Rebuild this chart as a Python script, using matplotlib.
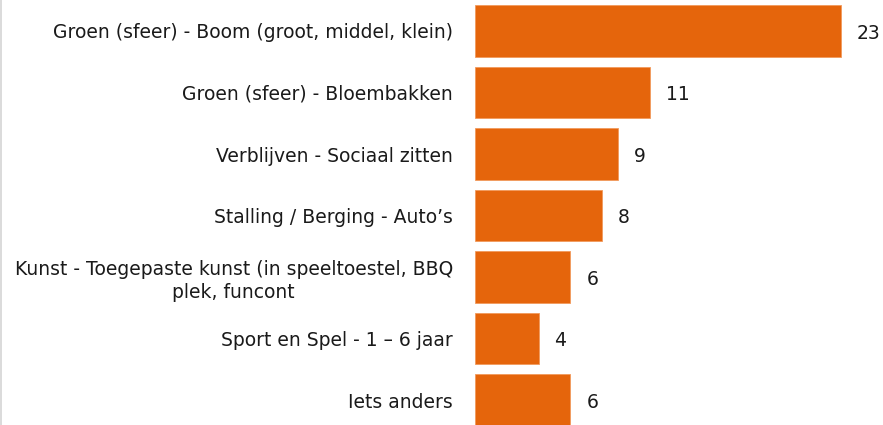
import matplotlib
matplotlib.use("Agg")
import matplotlib.pyplot as plt
from matplotlib.lines import Line2D

plt.rcParams["font.family"] = ["DejaVu Sans"]

categories = [
    "Groen (sfeer) - Boom (groot, middel, klein)",
    "Groen (sfeer) - Bloembakken",
    "Verblijven - Sociaal zitten",
    "Stalling / Berging - Auto\u2019s",
    "Kunst - Toegepaste kunst (in speeltoestel, BBQ\nplek, funcont",
    "Sport en Spel - 1 \u2013 6 jaar",
    "Iets anders",
]
values = [23, 11, 9, 8, 6, 4, 6]

bar_color = "#E5650C"

W, H = 883, 425
fig = plt.figure(figsize=(W / 100, H / 100), dpi=100)
ax = fig.add_axes([475 / W, 0, 1 - 475 / W, 1])

pos = list(range(len(categories)))
ax.barh(pos, values, height=0.83, color=bar_color, edgecolor="#F29A5C", linewidth=0.6)

ax.set_xlim(0, (W - 475) / 15.9)
ax.set_ylim((H - 31) / 61.5, -31 / 61.5)

ax.set_yticks(pos)
ax.set_yticklabels(categories, fontsize=13.5, color="#1a1a1a", multialignment="center",
                   linespacing=1.3)
ax.tick_params(axis="y", length=0, pad=16)
ax.set_xticks([])
for s in ax.spines.values():
    s.set_visible(False)

for p, v in zip(pos, values):
    ax.text(v + 1.0, p + 0.04, str(v), va="center", ha="left", fontsize=13.5, color="#1a1a1a")

fig.add_artist(Line2D([0.6 / W, 0.6 / W], [0, 1], color="#d4d4d4", linewidth=1.2))

fig.savefig("out.png", dpi=100)
